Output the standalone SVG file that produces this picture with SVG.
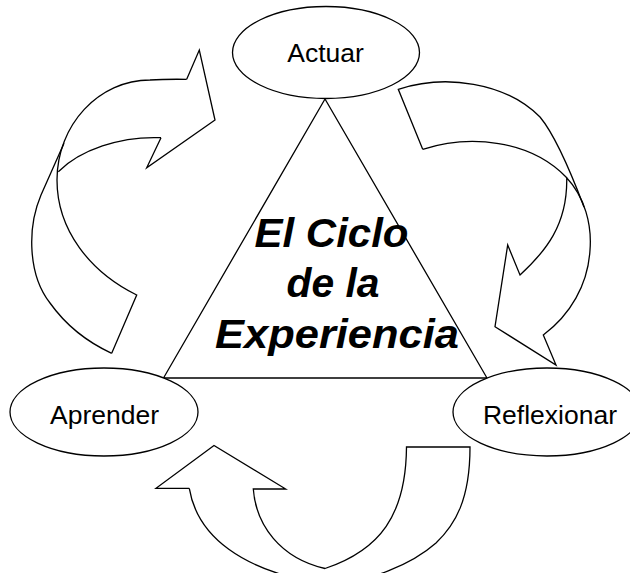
<svg xmlns="http://www.w3.org/2000/svg" width="630" height="573" viewBox="0 0 630 573">
<style>
.ln{fill:none;stroke:#000;stroke-width:1.3;stroke-linejoin:miter}
.nd{fill:#fff;stroke:#000;stroke-width:1.3}
.lb{font-family:"Liberation Sans",Arial,sans-serif;font-size:26.5px;fill:#000;text-anchor:middle}
.tt{font-family:"Liberation Sans",Arial,sans-serif;font-size:41px;font-weight:bold;font-style:italic;fill:#000;text-anchor:middle}
</style>
<rect width="630" height="573" fill="#fff"/>
<g id="triangle">
<polygon class="ln" stroke-width="1" points="325,99 163.5,378 487,378"/>
<text class="tt" x="331.5" y="247" textLength="154" lengthAdjust="spacingAndGlyphs">El Ciclo</text>
<text class="tt" x="333" y="297" textLength="93" lengthAdjust="spacingAndGlyphs">de la</text>
<text class="tt" x="337" y="348" textLength="244" lengthAdjust="spacingAndGlyphs">Experiencia</text>
</g>
<g id="connectors">
<g id="arrow-left">
<path class="ln" d="M186.7,79.3 L199.3,50 L215,120 L146.7,167.7 L161,137.7"/>
<path class="ln" d="M186.7,79.3 Q165,79 150,80 C98.7,80 57,125 57,180 C57,230 90,272 136.7,295 L111.7,353.3"/>
<path class="ln" d="M161,137.7 C120,136 80,150 58.3,171.7"/>
<path class="ln" d="M64,143.3 L41,195 C27,228 28,275 50,303 C65,324 85,341 111.7,353.3"/>
</g>
<g id="arrow-right">
<path class="ln" d="M422.7,149.3 L398.3,89.3 C445,74 505,82 540,117 C555,135 570,170 584,207"/>
<path class="ln" d="M422.7,149.3 C470,134 530,140 566,177 C585,197 592,225 590,250 C588,285 570,315 543.3,335 L556,365 L495,326.7 L507.7,245 L520,275 C545,252 568,225 566.7,177"/>
</g>
<g id="arrow-bottom">
<path class="ln" d="M189.3,488.3 L156,488.3 L214,445.5 L285.7,489 L253.3,489 C256,525 280,558 325,568.5 C380,550 406,515 406.5,447 L470,447 C470,500 455,525 436,543 C410,566 370,580 330,586"/>
<path class="ln" d="M189.3,488.3 C197,535 240,572 330,585"/>
</g>
</g>
<g id="actuar">
<ellipse class="nd" cx="326" cy="52.5" rx="93.5" ry="46"/>
<text class="lb" x="325.5" y="62">Actuar</text>
</g>
<g id="aprender">
<ellipse class="nd" cx="104" cy="412" rx="94" ry="44"/>
<text class="lb" x="104.5" y="424">Aprender</text>
</g>
<g id="reflexionar">
<ellipse class="nd" cx="547" cy="412" rx="94" ry="44"/>
<text class="lb" x="550" y="424">Reflexionar</text>
</g>
</svg>
